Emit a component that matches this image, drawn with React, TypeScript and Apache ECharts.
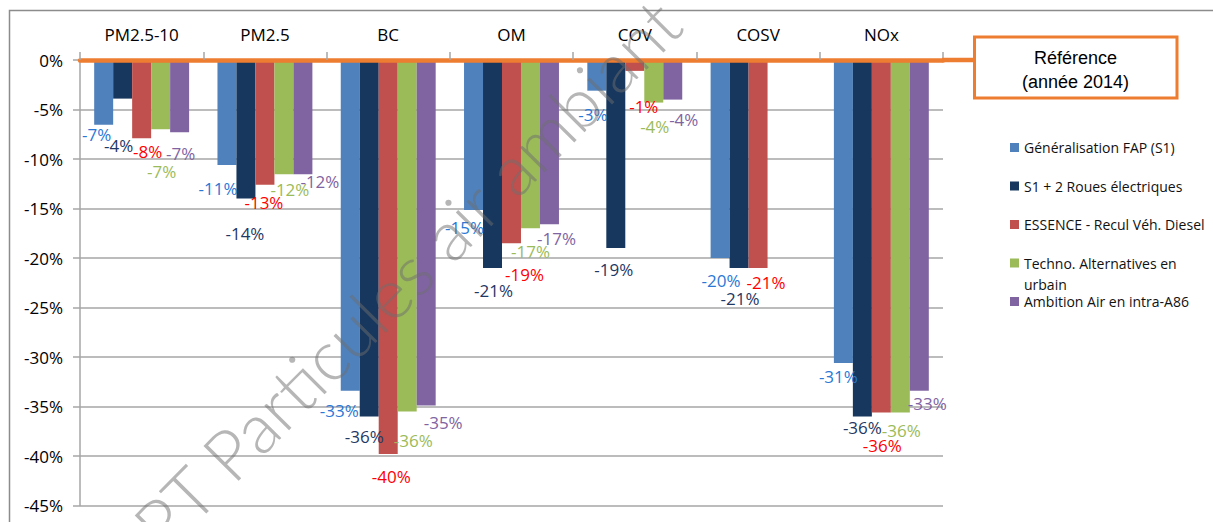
import React, { useEffect, useRef } from 'react';
import * as echarts from 'echarts';

// ---- data ----
const categories = ['PM2.5-10', 'PM2.5', 'BC', 'OM', 'COV', 'COSV', 'NOx'];
const seriesNames = [
  'Généralisation FAP (S1)',
  'S1 + 2 Roues électriques',
  'ESSENCE - Recul Véh. Diesel',
  'Techno. Alternatives en urbain',
  'Ambition Air en intra-A86',
];
const fapS1 = [-6.55, -10.6, -33.4, -15.15, -3.1, -20.0, -30.6];
const deuxRoues = [-3.9, -14.0, -36.0, -21.0, -19.0, -21.0, -36.0];
const essence = [-7.9, -12.6, -39.8, -18.5, -1.1, -21.0, -35.6];
const technoAlt = [-7.0, -11.55, -35.5, -17.0, -4.3, null, -35.6];
const ambitionAir = [-7.3, -11.55, -34.9, -16.6, -4.0, null, -33.4];
const seriesValues = [fapS1, deuxRoues, essence, technoAlt, ambitionAir];
const yMin = -45;
const yMax = 0;
const yStep = 5;

// ---- styles ----
const barColors = ['#4F81BD', '#17375E', '#C0504D', '#9BBB59', '#8064A2'];
const labelColors = ['#2A78D6', '#1F3864', '#FF0000', '#9BBB59', '#8064A2'];
// label nudges (dx, dy) relative to the default position under the bar end
const labelNudges: (number[] | null)[][] = [
  [[-7, 1], [-9, 15], [-11, 11], [-9, 9], [-4, 15], [1, 14], [-5, 5]],
  [[-4, 38], [-1, 26], [-5, 12], [1, 14], [-2, 13], [1, 22], [0, 3]],
  [[6, 5], [-1, 9], [3, 14], [13, 23], [9, 27], [8, 6], [1, 25]],
  [[1, 34], [6, 7], [6, 21], [0, 15], [1, 15], null, [1, 10]],
  [[1, 13], [17, -1], [17, 8], [7, 6], [11, 11], null, [8, 4]],
];

const FONT = 'Open Sans';
const ORANGE = '#ED7D31';
const GRID = '#A6A6A6';

const fmtPct = (v: number) => `${v < 0 ? '-' : ''}${Math.round(Math.abs(v))}%`;

export default function App() {
  const ref = useRef<HTMLDivElement>(null);
  useEffect(() => {
    if (!ref.current) return;
    const chart = echarts.init(ref.current, null, { renderer: 'svg' });
    const series = seriesValues.map((vals, si) => ({
      name: seriesNames[si],
      type: 'bar',
      barGap: '0%',
      barCategoryGap: '23%',
      itemStyle: { color: barColors[si] },
      label: {
        show: true,
        position: 'bottom',
        distance: 0,
        color: labelColors[si],
        fontSize: 17,
        fontFamily: FONT,
        formatter: (p: any) => fmtPct(p.value),
      },
      data: vals.map((v, ci) => {
        if (v === null) return null;
        const n = labelNudges[si][ci];
        return n ? { value: v, label: { offset: n } } : v;
      }),
    }));
    chart.setOption({
      animation: false,
      backgroundColor: '#fff',
      grid: { left: 80, top: 60, width: 863, height: 445.5, containLabel: false },
      legend: {
        orient: 'vertical',
        left: 1005,
        top: 132.5,
        itemWidth: 9,
        itemHeight: 9,
        itemGap: 18.5,
        icon: 'rect',
        data: seriesNames,
        formatter: (name: string) => (name === seriesNames[3] ? 'Techno. Alternatives en' : name),
        textStyle: { color: '#111', fontSize: 14, fontFamily: FONT, lineHeight: 20 },
      },
      xAxis: {
        type: 'category',
        data: categories,
        position: 'top',
        z: 10,
        axisLine: { lineStyle: { color: ORANGE, width: 4.5 } },
        axisTick: { show: true, length: 8, lineStyle: { color: GRID, width: 1.5 } },
        axisLabel: { color: '#000', fontSize: 17, fontFamily: FONT, margin: 17 },
      },
      yAxis: {
        type: 'value',
        min: yMin,
        max: yMax,
        interval: yStep,
        axisLine: { show: true, lineStyle: { color: GRID, width: 1.5 } },
        axisTick: { show: true, length: 7, lineStyle: { color: GRID, width: 1.5 } },
        axisLabel: { formatter: (v: number) => `${v}%`, color: '#000', fontSize: 17, fontFamily: FONT, margin: 17 },
        splitLine: { lineStyle: { color: GRID, width: 1.5 } },
      },
      graphic: [
        {
          type: 'rect',
          z: 0,
          silent: true,
          shape: { x: 9.5, y: 10.5, width: 1400, height: 700 },
          style: { fill: 'none', stroke: '#8C8C8C', lineWidth: 1.5 },
        },
        {
          type: 'line',
          z: 20,
          shape: { x1: 942, y1: 60, x2: 975, y2: 60 },
          style: { stroke: ORANGE, lineWidth: 4.5 },
        },
        {
          type: 'rect',
          z: 20,
          shape: { x: 974.5, y: 37, width: 202.5, height: 61 },
          style: { fill: '#fff', stroke: ORANGE, lineWidth: 3 },
        },
        {
          type: 'text',
          z: 21,
          x: 1075.5,
          y: 70,
          style: {
            text: 'Référence\n(année 2014)',
            align: 'center',
            verticalAlign: 'middle',
            fontSize: 18,
            lineHeight: 24,
            fontFamily: 'Liberation Sans',
            fill: '#000',
          },
        },
        {
          type: 'text',
          z: 20,
          x: 1024,
          y: 284,
          style: {
            text: 'urbain',
            align: 'left',
            verticalAlign: 'middle',
            fontSize: 14,
            fontFamily: FONT,
            fill: '#111',
          },
        },
        {
          type: 'text',
          z: 30,
          silent: true,
          x: 392,
          y: 288,
          rotation: 0.79,
          style: {
            text: 'PPT Particules air ambiant',
            align: 'center',
            verticalAlign: 'middle',
            fontSize: 70,
            fontFamily: 'Lato',
            fontWeight: 300,
            fill: 'rgba(110,110,110,0.5)',
          },
        },
      ],
      series,
    });
    return () => chart.dispose();
  }, []);
  return (
    <div
      ref={ref}
      style={{ position: 'fixed', left: 0, top: 0, width: 1213, height: 522, background: '#fff' }}
    />
  );
}
